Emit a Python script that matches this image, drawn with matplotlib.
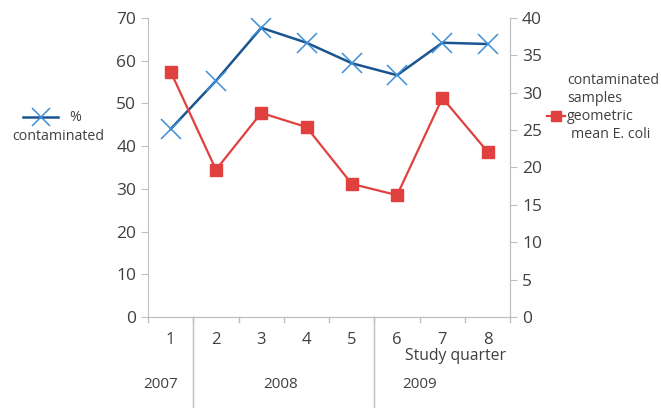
import numpy as np
import matplotlib
matplotlib.use("Agg")
import matplotlib.pyplot as plt
from matplotlib.lines import Line2D
from matplotlib.transforms import blended_transform_factory

plt.rcParams['font.family'] = ['Open Sans', 'DejaVu Sans']

quarters = [1, 2, 3, 4, 5, 6, 7, 8]
pct_contaminated = [44.0, 55.3, 67.7, 64.2, 59.4, 56.6, 64.2, 63.9]
geo_mean_ecoli = [32.8, 19.7, 27.3, 25.4, 17.8, 16.3, 29.3, 22.1]
years = ["2007", "2008", "2009"]
year_label_x = [0.78, 3.42, 6.5]
year_breaks = [1.5, 5.5]

text_col = '#404040'
axis_col = '#bfbfbf'
blue_line = '#1a5590'
blue_mark = '#3d8fd8'
red = '#e0413f'

fig = plt.figure(figsize=(6.61, 4.08), dpi=100)
ax = fig.add_axes([0.224, 0.223, 0.548, 0.733])
ax2 = ax.twinx()

ax.plot(quarters, pct_contaminated, color=blue_line, lw=1.8, marker='x',
        ms=15, mec=blue_mark, mew=1.1, zorder=3)
ax2.plot(quarters, geo_mean_ecoli, color=red, lw=1.6, marker='s',
         ms=8, mfc=red, mec=red, zorder=3)

ax.set_xlim(0.5, 8.5)
ax.set_ylim(0, 70)
ax2.set_ylim(0, 40)
ax.set_yticks(np.arange(0, 71, 10))
ax2.set_yticks(np.arange(0, 41, 5))
ax.set_xticks(quarters)
ax.set_xticklabels([str(q) for q in quarters])

for a in (ax, ax2):
    for s in a.spines.values():
        s.set_color(axis_col)
    a.spines['top'].set_visible(False)
    a.tick_params(colors=axis_col, labelcolor=text_col, labelsize=12.5, length=5)
ax.tick_params(axis='x', length=0, pad=11, labelsize=12)
ax2.spines['left'].set_visible(False)

# boundary ticks between quarters and year separators
trans = blended_transform_factory(ax.transData, ax.transAxes)
for b in np.arange(0.5, 9.0, 1.0):
    ax.add_line(Line2D([b, b], [0, -0.017], transform=trans, color=axis_col,
                       lw=1, clip_on=False))
for b in year_breaks:
    ax.add_line(Line2D([b, b], [0, -0.31], transform=trans, color=axis_col,
                       lw=1, clip_on=False))
for lbl, xpos in zip(years, year_label_x):
    ax.text(xpos, -0.225, lbl, transform=trans, ha='center', va='center',
            fontsize=11, color=text_col)
ax.text(7.3, -0.13, "Study quarter", transform=trans, ha='center',
        va='center', fontsize=11.3, color=text_col)

# legend keys
fig.add_artist(Line2D([0.035, 0.088], [0.713, 0.713], color=blue_line, lw=1.8,
                      transform=fig.transFigure))
fig.add_artist(Line2D([0.0615], [0.713], marker='x', ms=13, mec=blue_mark,
                      mew=1.1, transform=fig.transFigure))
fig.text(0.105, 0.713, "%", fontsize=10.3, color=text_col, va='center')
fig.text(0.018, 0.666, "contaminated", fontsize=10.3, color=text_col, va='center')

fig.add_artist(Line2D([0.828, 0.855], [0.715, 0.715], color=red, lw=1.6,
                      transform=fig.transFigure))
fig.add_artist(Line2D([0.8415], [0.715], marker='s', ms=7, mfc=red, mec=red,
                      transform=fig.transFigure))
fig.text(0.858, 0.803, "contaminated", fontsize=10.3, color=text_col, va='center')
fig.text(0.858, 0.759, "samples", fontsize=10.3, color=text_col, va='center')
fig.text(0.858, 0.715, "geometric", fontsize=10.3, color=text_col, va='center')
fig.text(0.864, 0.671, "mean E. coli", fontsize=10.3, color=text_col, va='center')

fig.savefig("out.png", dpi=100)
